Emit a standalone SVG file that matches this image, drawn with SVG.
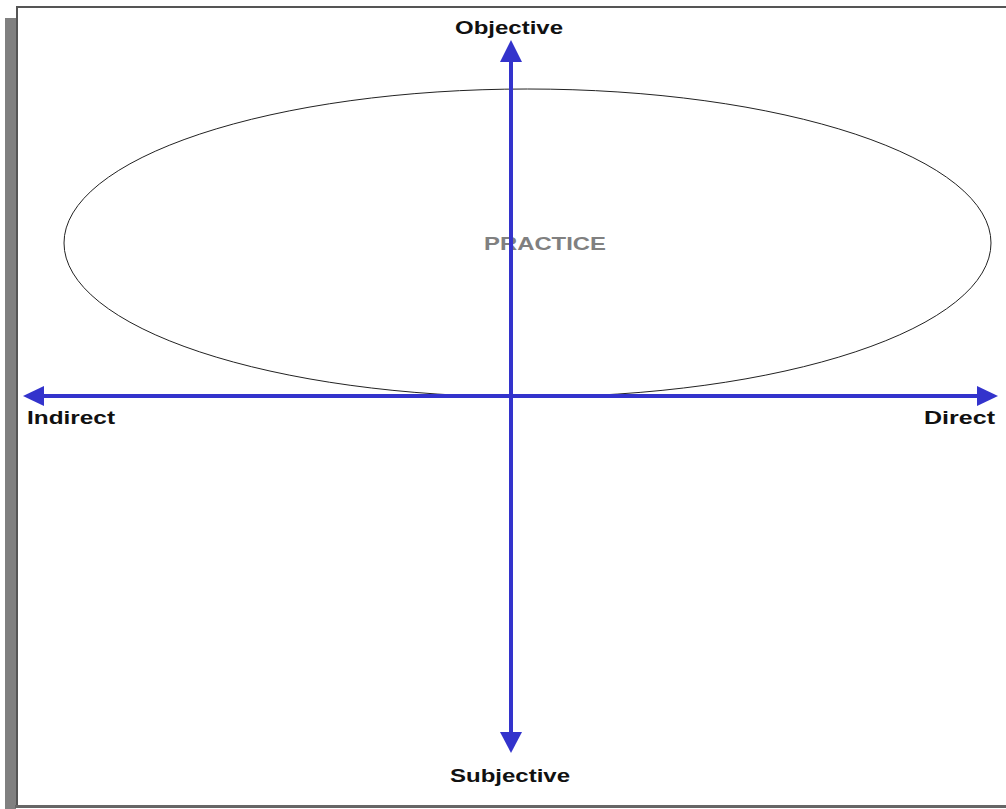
<svg xmlns="http://www.w3.org/2000/svg" width="1006" height="809" viewBox="0 0 1006 809">
<style>
.lbl{font-family:"Liberation Sans",Arial,sans-serif;font-weight:bold;font-size:19px;fill:#111}
.axis{stroke:#3333cc;stroke-width:4;fill:none}
.head{fill:#3333cc}
</style>
<rect x="0" y="0" width="1006" height="809" fill="#fff"/>
<g id="frame">
<rect x="5" y="18" width="11" height="791" fill="#808080"/>
<rect x="16" y="6" width="990" height="2" fill="#555"/>
<rect x="16" y="6" width="2" height="800" fill="#555"/>
<rect x="15" y="805" width="991" height="3" fill="#666"/>
</g>
<g id="practice">
<ellipse cx="527.5" cy="243" rx="463.5" ry="154" fill="none" stroke="#222" stroke-width="1"/>
<text x="545" y="250" text-anchor="middle" class="lbl" style="fill:#808080" textLength="122" lengthAdjust="spacingAndGlyphs">PRACTICE</text>
</g>
<g id="connectors">
<line class="axis" x1="511" y1="58" x2="511" y2="735"/>
<polygon class="head" points="511,40 500,62 522,62"/>
<polygon class="head" points="511,753 500,732 522,732"/>
<line class="axis" x1="40" y1="396" x2="982" y2="396"/>
<polygon class="head" points="23,396 44,386 44,406"/>
<polygon class="head" points="998,396 977,386 977,406"/>
</g>
<g id="objective"><text x="509" y="34" text-anchor="middle" class="lbl" textLength="108" lengthAdjust="spacingAndGlyphs">Objective</text></g>
<g id="subjective"><text x="510" y="782" text-anchor="middle" class="lbl" textLength="120" lengthAdjust="spacingAndGlyphs">Subjective</text></g>
<g id="indirect"><text x="27" y="424" class="lbl" textLength="88" lengthAdjust="spacingAndGlyphs">Indirect</text></g>
<g id="direct"><text x="924" y="424" class="lbl" textLength="71" lengthAdjust="spacingAndGlyphs">Direct</text></g>
</svg>
